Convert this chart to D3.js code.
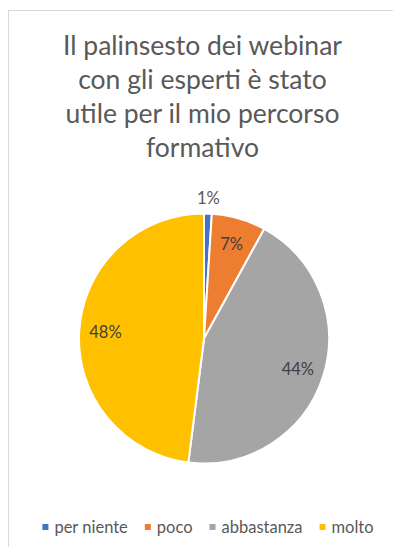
<!DOCTYPE html>
<html>
<head>
<meta charset="utf-8">
<script src="https://cdn.jsdelivr.net/npm/d3@7"></script>
<style>
  html, body { margin: 0; padding: 0; background: #fff; }
  svg { display: block; }
</style>
</head>
<body>
<script>
// Survey answers and their shares (percent)
const categories = ["per niente", "poco", "abbastanza", "molto"];
const values = [1, 7, 44, 48];
const colors = ["#4472C4", "#ED7D31", "#A5A5A5", "#FFC000"];
const titleLines = [
  "Il palinsesto dei webinar",
  "con gli esperti è stato",
  "utile per il mio percorso",
  "formativo"
];

const W = 393, H = 547;
const font = "Lato, 'Open Sans', sans-serif";

const svg = d3.select("body").append("svg")
  .attr("width", W).attr("height", H);

// chart frame
svg.append("rect")
  .attr("x", 8.5).attr("y", 10.5)
  .attr("width", W).attr("height", H)
  .attr("fill", "#fff")
  .attr("stroke", "#d9d9d9").attr("stroke-width", 1);

// title, condensed slightly so the lines keep a narrow, Calibri-like width
const titleRows = svg.append("g").selectAll("text").data(titleLines).join("text")
  .attr("text-anchor", "middle")
  .attr("font-family", font)
  .attr("font-size", 27)
  .attr("fill", "#595959")
  .attr("x", 202.5)
  .attr("y", (d, i) => 55 + i * 34)
  .text(d => d);
const squeeze = 279 / titleRows.node().getComputedTextLength();
titleRows.each(function () {
  const w = this.getComputedTextLength();
  d3.select(this)
    .attr("textLength", w * squeeze)
    .attr("lengthAdjust", "spacingAndGlyphs");
});

// pie
const cx = 204, cy = 338.5, r = 125;
const pie = d3.pie().sort(null).value(d => d)(values);
const arc = d3.arc().innerRadius(0).outerRadius(r);

const g = svg.append("g").attr("transform", `translate(${cx},${cy})`);
g.selectAll("path").data(pie).join("path")
  .attr("d", arc)
  .attr("fill", (d, i) => colors[i])
  .attr("stroke", "#fff")
  .attr("stroke-width", 2)
  .attr("stroke-linejoin", "round");

// percentage labels; the thin first slice gets its label outside the pie
g.selectAll("text.lbl").data(pie).join("text")
  .attr("class", "lbl")
  .attr("text-anchor", "middle")
  .attr("dominant-baseline", "central")
  .attr("font-family", font)
  .attr("font-size", 16.5)
  .attr("fill", (d, i) => i === 0 ? "#595959" : "#404040")
  .attr("transform", (d, i) => {
    const a = (d.startAngle + d.endAngle) / 2;
    const rr = i === 0 ? r + 16 : r * 0.79;
    return `translate(${Math.sin(a) * rr},${-Math.cos(a) * rr})`;
  })
  .text(d => d.data + "%");

// legend
const sq = 6, pad = 6, gap = 17;
const legend = svg.append("g").attr("transform", "translate(0,527)");
const items = legend.selectAll("g").data(categories).join("g");
items.append("rect")
  .attr("width", sq).attr("height", sq)
  .attr("y", -sq / 2)
  .attr("fill", (d, i) => colors[i]);
items.append("text")
  .attr("x", sq + pad)
  .attr("dominant-baseline", "central")
  .attr("font-family", font)
  .attr("font-size", 16.5)
  .attr("fill", "#595959")
  .text(d => d);
const offsets = [];
let xpos = 0;
items.each(function () {
  const w = d3.select(this).select("text").node().getComputedTextLength();
  offsets.push(xpos);
  xpos += sq + pad + w + gap;
});
const total = xpos - gap;
const start = 208 - total / 2;
items.attr("transform", (d, i) => `translate(${start + offsets[i]},0)`);
</script>
</body>
</html>
